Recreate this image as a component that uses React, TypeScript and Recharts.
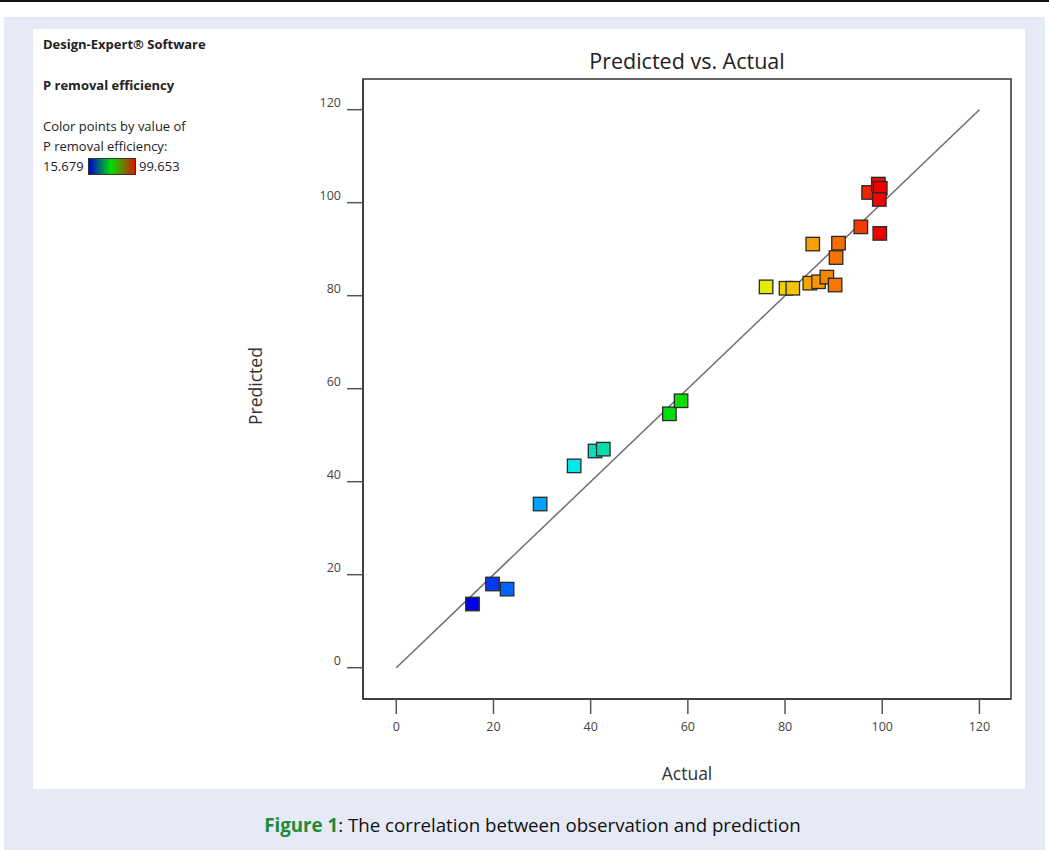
import { ScatterChart, Scatter, XAxis, YAxis, ReferenceLine, ReferenceArea, Cell } from "recharts";

// Actual vs predicted P removal efficiency (%)
const actualValues = [
    15.68, 19.8, 22.8, 29.6, 36.6, 40.9, 42.6, 56.2, 58.6, 76.1, 80.2, 81.6, 85.1,
    86.9, 88.6, 90.3, 85.7, 91.0, 90.5, 95.6, 97.2, 99.2, 99.6, 99.4, 99.5,
];
const predictedValues = [
    13.7, 18.0, 16.9, 35.2, 43.4, 46.6, 47.0, 54.6, 57.4, 81.9, 81.6, 81.6, 82.7,
    83.0, 84.0, 82.3, 91.1, 91.3, 88.2, 94.8, 102.2, 104.0, 103.1, 100.7, 93.4,
];
const tickValues = [0, 20, 40, 60, 80, 100, 120];
const colorMin = 15.679;
const colorMax = 99.653;

const X_DOMAIN: [number, number] = [-6.85, 126.5];
const Y_DOMAIN: [number, number] = [-6.73, 126.6];

const points = actualValues.map((a, i) => ({ actual: a, predicted: predictedValues[i] }));

// blue -> cyan -> green -> yellow -> red, like Design-Expert
const STOPS: [number, number[]][] = [
    [0, [0, 0, 235]],
    [0.085, [0, 100, 255]],
    [0.17, [0, 165, 255]],
    [0.25, [0, 235, 235]],
    [0.31, [0, 220, 180]],
    [0.5, [0, 220, 0]],
    [0.72, [230, 235, 0]],
    [0.78, [245, 200, 0]],
    [0.87, [245, 135, 0]],
    [0.95, [245, 60, 0]],
    [1, [240, 0, 0]],
];

const colorFor = (v: number) => {
    const t = Math.min(1, Math.max(0, (v - colorMin) / (colorMax - colorMin)));
    for (let i = 1; i < STOPS.length; i++) {
        const [t1, c1] = STOPS[i];
        const [t0, c0] = STOPS[i - 1];
        if (t <= t1) {
            const f = (t - t0) / (t1 - t0);
            const c = c0.map((ch, k) => Math.round(ch + (c1[k] - ch) * f));
            return `rgb(${c[0]},${c[1]},${c[2]})`;
        }
    }
    return "rgb(240,0,0)";
};

const FONT = "'Open Sans', 'Noto Sans', sans-serif";

const YTick = ({ x, y, payload }: any) => (
    <text x={x} y={y - 3} textAnchor="end" fontSize={12.5} fill="#444" fontFamily={FONT}>
        {payload.value}
    </text>
);

const XTick = ({ x, y, payload }: any) => (
    <text x={x} y={y + 17} textAnchor="middle" fontSize={12.5} fill="#444" fontFamily={FONT}>
        {payload.value}
    </text>
);

const YTitle = ({ viewBox }: any) => {
    const cx = viewBox.x + 15;
    const cy = viewBox.y + viewBox.height / 2 - 3;
    return (
        <text x={cx} y={cy} transform={`rotate(-90, ${cx}, ${cy})`} textAnchor="middle" dominantBaseline="central"
            fontSize={17.5} fill="#333" fontFamily={FONT}>
            Predicted
        </text>
    );
};

const XTitle = ({ viewBox }: any) => (
    <text x={viewBox.x + viewBox.width / 2} y={viewBox.y + 74} textAnchor="middle" dominantBaseline="central"
        fontSize={17.5} fill="#333" fontFamily={FONT}>
        Actual
    </text>
);

const SquareDot = ({ cx, cy, fill }: any) => (
    <rect x={cx - 6.75} y={cy - 6.75} width={13.5} height={13.5} fill={fill} stroke="#2a2a2a" strokeWidth={1.3} />
);

const sideText = { position: "absolute" as const, left: 43, fontSize: 13, color: "#222", fontFamily: FONT, whiteSpace: "nowrap" as const, lineHeight: "18px" };

export default function App() {
    return (
        <div style={{ position: "absolute", left: 0, top: 0, width: 1049, height: 850, background: "#fff", overflow: "hidden" }}>
            <div style={{ position: "absolute", left: 0, top: 0, width: 1049, height: 2, background: "#111" }} />
            <div style={{ position: "absolute", left: 4, top: 17, width: 1041, height: 833, background: "#E6EAF6" }} />
            <div style={{ position: "absolute", left: 33, top: 29, width: 992, height: 760, background: "#fff" }} />

            <div style={{ ...sideText, top: 35, fontWeight: 700, fontSize: 13 }}>Design-Expert® Software</div>
            <div style={{ ...sideText, top: 76, fontWeight: 700, fontSize: 13 }}>P removal efficiency</div>
            <div style={{ ...sideText, top: 117 }}>Color points by value of</div>
            <div style={{ ...sideText, top: 137 }}>P removal efficiency:</div>
            <div style={{ ...sideText, top: 157 }}>{colorMin}</div>
            <div style={{
                position: "absolute", left: 88, top: 158, width: 46, height: 15, border: "1px solid #333",
                background: "linear-gradient(to right, #0000d8, #00e000 48%, #d81a00)",
            }} />
            <div style={{ ...sideText, left: 139, top: 157 }}>{colorMax}</div>

            <div style={{ position: "absolute", left: 363, width: 648, top: 46, textAlign: "center", fontSize: 21.5, lineHeight: "30px", color: "#222", fontFamily: FONT }}>
                Predicted vs. Actual
            </div>

            <div style={{ position: "absolute", left: 0, top: 0 }}>
                <ScatterChart width={1049} height={850} margin={{ top: 79, right: 38, bottom: 65, left: 240 }}>
                    <XAxis dataKey="actual" type="number" domain={X_DOMAIN} allowDataOverflow ticks={tickValues}
                        height={86} tickSize={15} tickMargin={0} tick={<XTick />}
                        axisLine={{ stroke: "#333", strokeWidth: 1.5 }} tickLine={{ stroke: "#555", strokeWidth: 1.5 }}
                        label={<XTitle />} />
                    <YAxis dataKey="predicted" type="number" domain={Y_DOMAIN} allowDataOverflow ticks={tickValues}
                        width={123} tickSize={16} tickMargin={6} tick={<YTick />}
                        axisLine={{ stroke: "#333", strokeWidth: 1.5 }} tickLine={{ stroke: "#555", strokeWidth: 1.5 }}
                        label={<YTitle />} />
                    <ReferenceArea x1={X_DOMAIN[0]} x2={X_DOMAIN[1]} y1={Y_DOMAIN[0]} y2={Y_DOMAIN[1]}
                        fill="none" fillOpacity={0} stroke="#333" strokeWidth={1.5} />
                    <ReferenceLine segment={[{ x: 0, y: 0 }, { x: 120, y: 120 }]} stroke="#6e6e6e" strokeWidth={1.5} />
                    <Scatter data={points} shape={<SquareDot />} isAnimationActive={false}>
                        {points.map((p, i) => (
                            <Cell key={`pt-${i}`} fill={colorFor(p.actual)} />
                        ))}
                    </Scatter>
                </ScatterChart>
            </div>

            <div style={{ position: "absolute", left: 8, width: 1049, top: 812, textAlign: "center", fontSize: 18.7, lineHeight: "26px", color: "#111", fontFamily: FONT }}>
                <span style={{ color: "#1f8a3a", fontWeight: 700 }}>Figure 1</span>: The correlation between observation and prediction
            </div>
        </div>
    );
}
